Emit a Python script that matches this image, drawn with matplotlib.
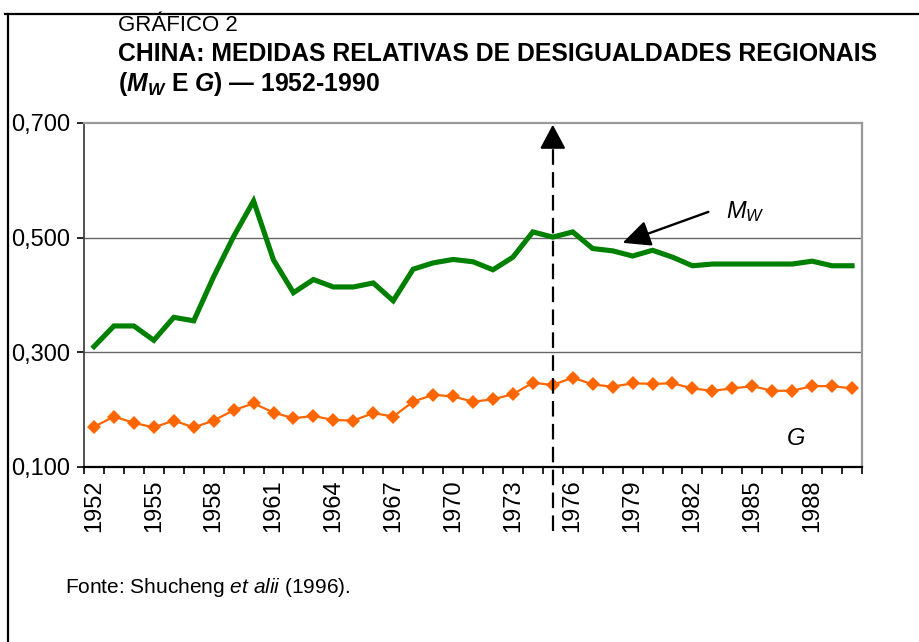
import numpy as np
import matplotlib
matplotlib.use('Agg')
import matplotlib.pyplot as plt
from matplotlib import transforms
from matplotlib.lines import Line2D

plt.rcParams['font.family'] = ['Liberation Sans', 'DejaVu Sans']
plt.rcParams['mathtext.fontset'] = 'custom'
plt.rcParams['mathtext.rm'] = 'Liberation Sans'
plt.rcParams['mathtext.it'] = 'Liberation Sans:italic'
plt.rcParams['mathtext.bf'] = 'Liberation Sans:bold'
plt.rcParams['mathtext.bfit'] = 'Liberation Sans:italic:bold'

# data
years = list(range(1952, 1991))
mw = [0.310, 0.346, 0.346, 0.321, 0.361, 0.355, 0.432, 0.502, 0.564, 0.461,
      0.404, 0.427, 0.414, 0.414, 0.421, 0.390, 0.445, 0.456, 0.462, 0.458,
      0.444, 0.466, 0.510, 0.501, 0.510, 0.481, 0.477, 0.468, 0.478, 0.466,
      0.451, 0.454, 0.454, 0.454, 0.454, 0.454, 0.459, 0.451, 0.451]
g = [0.170, 0.188, 0.177, 0.169, 0.181, 0.169, 0.181, 0.199, 0.211, 0.195,
     0.185, 0.189, 0.182, 0.181, 0.194, 0.188, 0.214, 0.226, 0.223, 0.214,
     0.218, 0.227, 0.247, 0.243, 0.256, 0.244, 0.240, 0.246, 0.245, 0.246,
     0.237, 0.233, 0.237, 0.241, 0.233, 0.233, 0.241, 0.241, 0.237]
yticks = [0.1, 0.3, 0.5, 0.7]
label_years = years[::3]
break_year = 1975

W, H = 920, 642
fig = plt.figure(figsize=(W / 100, H / 100), dpi=100)
ax = fig.add_axes([84 / W, 1 - 467 / H, (862 - 84) / W, (467 - 123) / H])

x = np.arange(len(years))
ax.plot(x, mw, color='#008000', lw=3.7, solid_joinstyle='miter', zorder=3)
ax.plot(x, g, color='#FF6600', lw=1.6, marker='D', markersize=7.6,
        markeredgewidth=0, zorder=3)

ax.set_xlim(-0.5, len(years) - 0.5)
ax.set_ylim(yticks[0], yticks[-1])
ax.set_yticks(yticks)
ax.set_yticklabels([f'{v:.3f}'.replace('.', ',') for v in yticks], fontsize=17)
for v in yticks[1:-1]:
    ax.axhline(v, color='#666666', lw=1.0, zorder=1)

ax.set_xticks([years.index(y) for y in label_years])
ax.set_xticklabels([str(y) for y in label_years], rotation=90, fontsize=17,
                   va='top', ha='center')
ax.set_xticks(np.arange(-0.5, len(years), 1), minor=True)
ax.tick_params(axis='x', which='major', length=0, pad=9)
ax.tick_params(axis='x', which='minor', length=5, width=1.2, direction='out')
ax.tick_params(axis='y', length=5, width=1.2, pad=5, direction='out')

ax.spines['top'].set_color('#999999')
ax.spines['top'].set_linewidth(1.6)
ax.spines['right'].set_color('#999999')
ax.spines['right'].set_linewidth(1.6)
ax.spines['left'].set_color('#444444')
ax.spines['left'].set_linewidth(1.3)
ax.spines['bottom'].set_color('black')
ax.spines['bottom'].set_linewidth(1.6)

# dashed break line with arrow head
bx = years.index(break_year)
trans = transforms.blended_transform_factory(ax.transData, ax.transAxes)
ax.plot([bx, bx], [-0.185, 0.93], transform=trans, color='black', lw=1.6,
        ls='--', dashes=(7, 3.3), clip_on=False, zorder=4)
ax.annotate('', xy=(bx, 0.995), xytext=(bx, 0.93), xycoords=trans,
            textcoords=trans,
            arrowprops=dict(arrowstyle='-|>,head_length=0.75,head_width=0.4',
                            mutation_scale=20, color='black', lw=1.5,
                            shrinkA=0, shrinkB=0), annotation_clip=False)

# series labels
ax.annotate('', xy=(26.5, 0.491), xytext=(30.8, 0.545),
            arrowprops=dict(arrowstyle='-|>,head_length=0.85,head_width=0.4',
                            mutation_scale=20, color='black', lw=1.7,
                            shrinkA=0, shrinkB=0))
ax.text(31.7, 0.545, r'$M_W$', fontsize=17, ha='left', va='center')
ax.text(34.7, 0.149, r'$G$', fontsize=17, ha='left', va='center')

# titles and source
fig.text(118 / W, 1 - 31 / H, 'GRÁFICO 2', fontsize=16, va='baseline')
fig.text(118 / W, 1 - 61 / H,
         'CHINA: MEDIDAS RELATIVAS DE DESIGUALDADES REGIONAIS',
         fontsize=17.8, fontweight='bold', va='baseline')
fig.text(118 / W, 1 - 91 / H,
         r'($\mathbfit{M}_{\mathbfit{W}}$ E $\mathbfit{G}$) — 1952-1990',
         fontsize=17.8, fontweight='bold', va='baseline')
fig.text(65 / W, 1 - 593 / H, r'Fonte: Shucheng $\mathit{et\ alii}$ (1996).',
         fontsize=15, va='baseline')

# frame around the figure
fig.add_artist(Line2D([5 / W, 1], [1 - 14 / H, 1 - 14 / H],
                      transform=fig.transFigure, color='black', lw=1.6))
fig.add_artist(Line2D([8 / W, 8 / W], [0, 1 - 14 / H],
                      transform=fig.transFigure, color='black', lw=1.6))

fig.savefig('out.png', dpi=100)
